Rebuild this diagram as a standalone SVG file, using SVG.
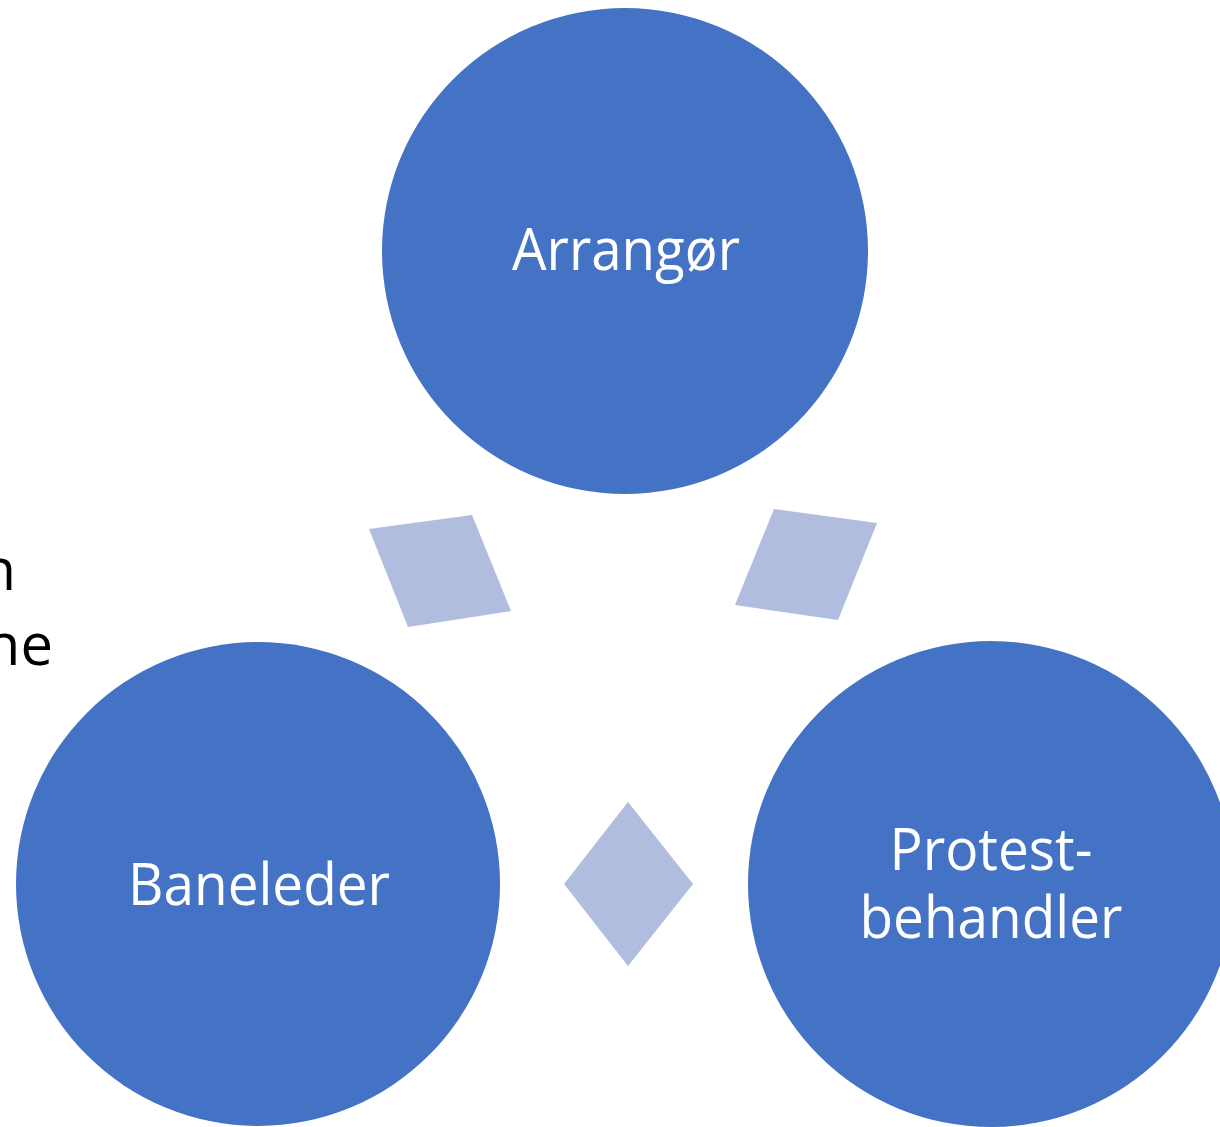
<svg xmlns="http://www.w3.org/2000/svg" width="1220" height="1127" viewBox="0 0 1220 1127">
<style>
.node{fill:#4472C4}
.conn{fill:#B0BDDF}
.lbl{font-family:"Open Sans","Noto Sans",sans-serif;font-size:58px;fill:#FFFFFF;text-anchor:middle}
.side{font-family:"Open Sans","Noto Sans",sans-serif;font-size:58px;fill:#000000;text-anchor:end}
</style>
<rect width="1220" height="1127" fill="#FFFFFF"/>
<g id="side-text">
<text class="side" x="16" y="590">n</text>
<text class="side" x="53" y="665">ne</text>
</g>
<g id="connectors">
<polygon class="conn" points="369,529 472,515 511,611 408,627"/>
<polygon class="conn" points="774,509 877,523 838,620 735,605"/>
<polygon class="conn" points="628,802 693,884 628,966 564,884"/>
</g>
<g id="arrangor">
<circle class="node" cx="625" cy="251" r="243"/>
<text class="lbl" x="626" y="270" textLength="228" lengthAdjust="spacingAndGlyphs">Arrangør</text>
</g>
<g id="baneleder">
<circle class="node" cx="258" cy="884" r="242"/>
<text class="lbl" x="259" y="905" textLength="262" lengthAdjust="spacingAndGlyphs">Baneleder</text>
</g>
<g id="protestbehandler">
<circle class="node" cx="991" cy="884" r="243"/>
<text class="lbl" x="991" y="870" textLength="203" lengthAdjust="spacingAndGlyphs">Protest-</text>
<text class="lbl" x="991" y="938" textLength="263" lengthAdjust="spacingAndGlyphs">behandler</text>
</g>
</svg>
